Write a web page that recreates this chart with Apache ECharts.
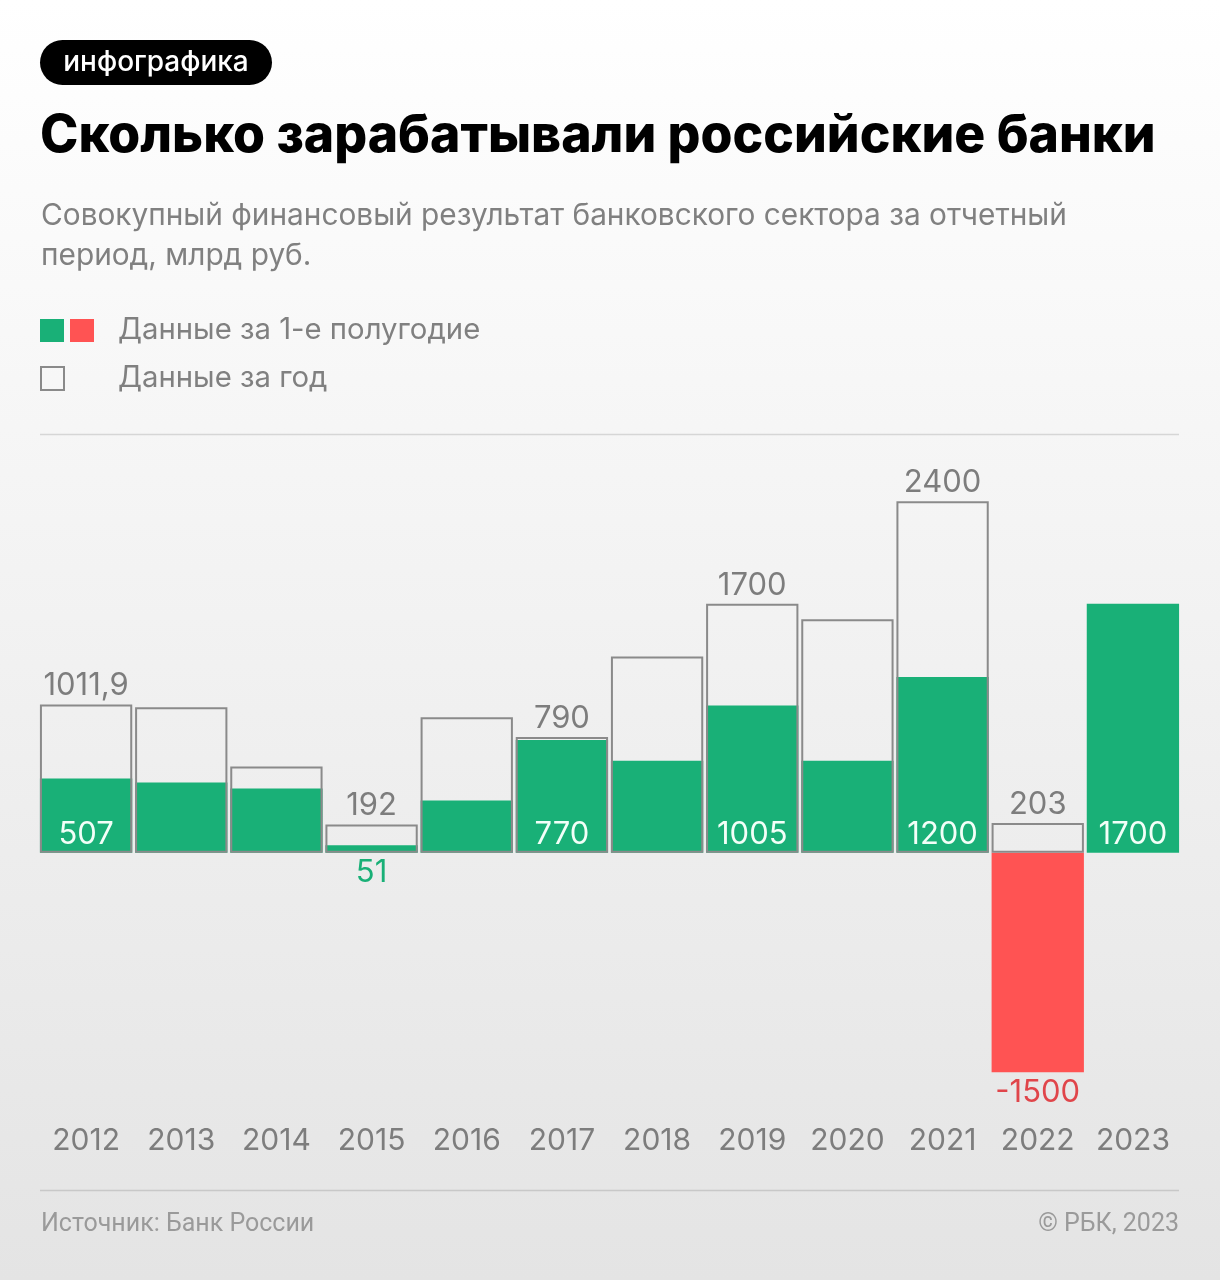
<!DOCTYPE html>
<html><head><meta charset="utf-8">
<script src="https://cdn.jsdelivr.net/npm/echarts@6/dist/echarts.min.js"></script>
<style>html,body{margin:0;padding:0;} #c{width:1220px;height:1280px;}</style>
</head><body><div id="c"></div>
<script>
const years = ['2012','2013','2014','2015','2016','2017','2018','2019','2020','2021','2022','2023'];
const annualValues = [1011.9, 993, 589, 192, 925, 790, 1340, 1700, 1595, 2400, 203, null];
const halfYearValues = [507, 480, 439, 51, 357, 770, 628, 1005, 628, 1200, -1500, 1700];
const annualLabelYears = ['2012','2015','2017','2019','2021','2022'];
const halfLabelYears = ['2012','2015','2017','2019','2021','2022','2023'];

const GREEN = '#19b077', RED = '#ff5353', GRAY = '#7d7d7d', FONT = 'Inter';
const fmt = v => String(v).replace('.', ',');

const annualData = annualValues.map((v, i) => ({
  value: v,
  label: { show: annualLabelYears.includes(years[i]) }
}));
const halfData = halfYearValues.map((v, i) => {
  const show = halfLabelYears.includes(years[i]);
  const outside = v < 100;
  const col = v < 0 ? RED : GREEN;
  return {
    value: v,
    itemStyle: { color: col },
    label: outside
      ? { show, position: 'bottom', distance: v < 0 ? 5 : 4, color: v < 0 ? '#e0454a' : GREEN }
      : { show, position: 'insideBottom', distance: 3, color: '#f2fff8' }
  };
});

const chart = echarts.init(document.getElementById('c'), null, { renderer: 'canvas' });
chart.setOption({
  backgroundColor: { type: 'linear', x: 0, y: 0, x2: 0, y2: 1,
    colorStops: [{ offset: 0, color: '#ffffff' }, { offset: 1, color: '#e4e4e4' }] },
  animation: false,
  grid: { left: 38.5, right: 39.5, top: 472, height: 615 },
  xAxis: {
    type: 'category', data: years,
    axisLine: { show: false, onZero: false }, axisTick: { show: false },
    axisLabel: { interval: 0, color: GRAY, fontFamily: FONT, fontSize: 30, margin: 39 }
  },
  yAxis: { type: 'value', min: -1600, max: 2600, show: false, splitLine: { show: false } },
  series: [
    {
      type: 'bar', data: halfData, barCategoryGap: '3%', barGap: '-100%', z: 2,
      label: { fontFamily: FONT, fontSize: 31, formatter: p => fmt(p.value) }
    },
    {
      type: 'bar', data: annualData, barCategoryGap: '3%', barGap: '-100%', z: 3,
      itemStyle: { color: 'rgba(0,0,0,0)', borderColor: '#8a8a8a', borderWidth: 2 },
      label: { position: 'top', distance: 3, color: GRAY, fontFamily: FONT, fontSize: 31,
               formatter: p => fmt(p.value) }
    }
  ],
  graphic: [
    { type: 'rect', shape: { x: 40, y: 40, width: 232, height: 45, r: 22.5 }, style: { fill: '#000' } },
    { type: 'text', x: 156, y: 62.5, style: { text: 'инфографика', fill: '#fff', font: '500 28px Inter', align: 'center', verticalAlign: 'middle' } },
    { type: 'text', x: 40, y: 136, style: { text: 'Сколько зарабатывали российские банки', fill: '#000', font: '800 51.7px Inter', verticalAlign: 'middle' } },
    { type: 'text', x: 41, y: 216, style: { text: 'Совокупный финансовый результат банковского сектора за отчетный', fill: '#808080', font: '400 29.8px Inter', verticalAlign: 'middle' } },
    { type: 'text', x: 41, y: 256, style: { text: 'период, млрд руб.', fill: '#808080', font: '400 29.8px Inter', verticalAlign: 'middle' } },
    { type: 'rect', shape: { x: 40, y: 319, width: 24, height: 23 }, style: { fill: GREEN } },
    { type: 'rect', shape: { x: 70, y: 319, width: 24, height: 23 }, style: { fill: RED } },
    { type: 'text', x: 118, y: 330, style: { text: 'Данные за 1-е полугодие', fill: '#808080', font: '400 29.3px Inter', verticalAlign: 'middle' } },
    { type: 'rect', shape: { x: 41, y: 367, width: 23, height: 23 }, style: { fill: 'none', stroke: '#8a8a8a', lineWidth: 2 } },
    { type: 'text', x: 118, y: 378, style: { text: 'Данные за год', fill: '#808080', font: '400 29.3px Inter', verticalAlign: 'middle' } },
    { type: 'line', shape: { x1: 40, y1: 434.5, x2: 1179, y2: 434.5 }, style: { stroke: '#d6d6d6', lineWidth: 1.5 } },
    { type: 'line', shape: { x1: 40, y1: 1190.5, x2: 1179, y2: 1190.5 }, style: { stroke: '#c8c8c8', lineWidth: 1.5 } },
    { type: 'text', x: 41, y: 1225, style: { text: 'Источник: Банк России', fill: '#9a9a9a', font: '400 25px Roboto', verticalAlign: 'middle' } },
    { type: 'text', x: 1179, y: 1225, style: { text: '© РБК, 2023', fill: '#9a9a9a', font: '400 25px Roboto', align: 'right', verticalAlign: 'middle' } }
  ]
});
</script></body></html>
